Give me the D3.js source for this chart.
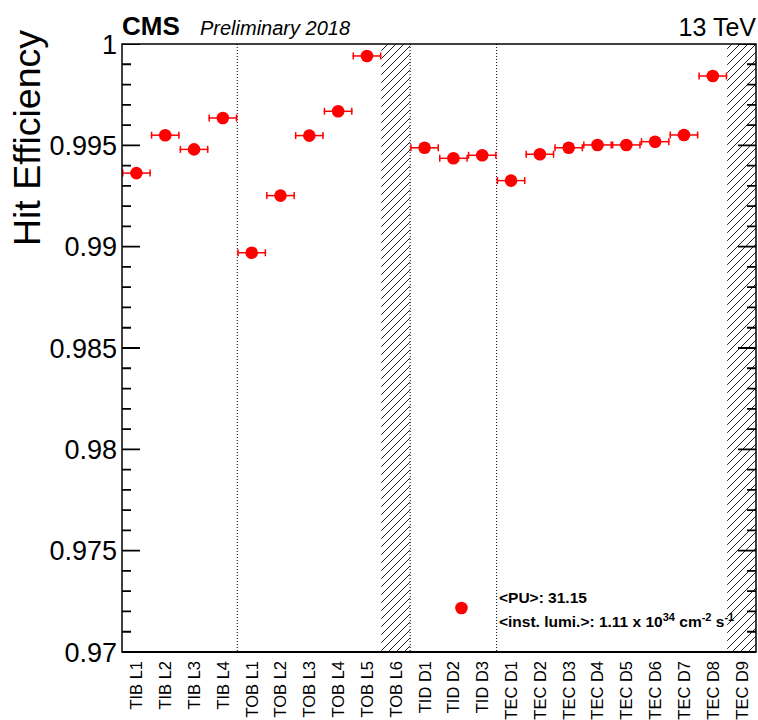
<!DOCTYPE html>
<html>
<head>
<meta charset="utf-8">
<script src="https://cdn.jsdelivr.net/npm/d3@7"></script>
<style>
  html, body { margin: 0; padding: 0; background: #fff; }
  svg { display: block; font-family: "Liberation Sans", Arial, Helvetica, sans-serif; }
</style>
</head>
<body>
<svg id="chart" width="758" height="720"></svg>
<script>
// ---- data ----
const categories = ["TIB L1","TIB L2","TIB L3","TIB L4",
  "TOB L1","TOB L2","TOB L3","TOB L4","TOB L5","TOB L6",
  "TID D1","TID D2","TID D3",
  "TEC D1","TEC D2","TEC D3","TEC D4","TEC D5","TEC D6","TEC D7","TEC D8","TEC D9"];
const efficiency = [0.99363, 0.99550, 0.99480, 0.99635,
  0.98970, 0.99252, 0.99548, 0.99668, 0.99941, null,
  0.99488, 0.99436, 0.99451,
  0.99326, 0.99456, 0.99488, 0.99502, 0.99502, 0.99518, 0.99551, 0.99842, null];
const hatchedLayers = ["TOB L6", "TEC D9"];
const subdetectorStarts = ["TOB L1", "TID D1", "TEC D1"];
const extraPointBin = [11.78];     // bin-index coordinate of the lone marker
const extraPointValue = [0.97217];
const yMajorTicks = [0.97, 0.975, 0.98, 0.985, 0.99, 0.995, 1.0];
const yMinorTicks = [0.971, 0.972, 0.973, 0.974, 0.976, 0.977, 0.978, 0.979,
  0.981, 0.982, 0.983, 0.984, 0.986, 0.987, 0.988, 0.989,
  0.991, 0.992, 0.993, 0.994, 0.996, 0.997, 0.998, 0.999];
const annotationPU = "<PU>: 31.15";

// ---- layout ----
const L = 122, R = 756, T = 44, B = 652;
const svg = d3.select("#chart");
const x = d3.scaleLinear().domain([0, categories.length]).range([L, R]);
const y = d3.scaleLinear().domain([0.97, 1.0]).range([B, T]);
const binW = x(1) - x(0);

const defs = svg.append("defs");
const pat = defs.append("pattern").attr("id", "hatch")
  .attr("patternUnits", "userSpaceOnUse").attr("width", 8).attr("height", 8);
pat.append("path").attr("d", "M0,8 L8,0 M-2,2 L2,-2 M6,10 L10,6")
  .attr("stroke", "#222").attr("stroke-width", 1);
defs.append("clipPath").attr("id", "plotclip").append("rect")
  .attr("x", L).attr("y", T).attr("width", R - L).attr("height", B - T);

const plot = svg.append("g").attr("clip-path", "url(#plotclip)");

// hatched (excluded) layers
plot.selectAll("rect.hatch").data(hatchedLayers).enter().append("rect")
  .attr("class", "hatch")
  .attr("x", d => x(categories.indexOf(d)))
  .attr("y", T).attr("width", binW).attr("height", B - T)
  .attr("fill", "url(#hatch)");

// subdetector separators
plot.selectAll("line.sep").data(subdetectorStarts).enter().append("line")
  .attr("x1", d => x(categories.indexOf(d))).attr("x2", d => x(categories.indexOf(d)))
  .attr("y1", T).attr("y2", B)
  .attr("stroke", "#000").attr("stroke-width", 1).attr("stroke-dasharray", "1,2");

// ticks (left and right, inward)
const tickData = yMajorTicks.map(v => ({ v: v, len: 18 }))
  .concat(yMinorTicks.map(v => ({ v: v, len: 9 })));
plot.selectAll("path.ytick").data(tickData).enter().append("path")
  .attr("class", "ytick")
  .attr("d", d => `M${L},${y(d.v)}h${d.len}M${R},${y(d.v)}h${-d.len}`)
  .attr("stroke", "#000").attr("stroke-width", 1.8).attr("fill", "none");

// data points
const pts = categories.map((c, i) => ({ c, i, v: efficiency[i] })).filter(d => d.v !== null);
const red = "#ff0000";
const g = plot.append("g");
g.selectAll("line.eb").data(pts).enter().append("line")
  .attr("x1", d => x(d.i)).attr("x2", d => x(d.i + 1))
  .attr("y1", d => y(d.v)).attr("y2", d => y(d.v))
  .attr("stroke", red).attr("stroke-width", 1.5);
g.selectAll("line.capL").data(pts).enter().append("line")
  .attr("x1", d => x(d.i) + 0.75).attr("x2", d => x(d.i) + 0.75)
  .attr("y1", d => y(d.v) - 3.5).attr("y2", d => y(d.v) + 3.5)
  .attr("stroke", red).attr("stroke-width", 1.5);
g.selectAll("line.capR").data(pts).enter().append("line")
  .attr("x1", d => x(d.i + 1) - 0.75).attr("x2", d => x(d.i + 1) - 0.75)
  .attr("y1", d => y(d.v) - 3.5).attr("y2", d => y(d.v) + 3.5)
  .attr("stroke", red).attr("stroke-width", 1.5);
g.selectAll("circle.pt").data(pts).enter().append("circle")
  .attr("cx", d => x(d.i + 0.5)).attr("cy", d => y(d.v)).attr("r", 6.3)
  .attr("fill", red);
g.selectAll("circle.extra").data(extraPointBin).enter().append("circle")
  .attr("cx", d => x(d)).attr("cy", (d, i) => y(extraPointValue[i])).attr("r", 6.3)
  .attr("fill", red);

// frame
svg.append("rect").attr("x", L).attr("y", T).attr("width", R - L).attr("height", B - T)
  .attr("fill", "none").attr("stroke", "#000").attr("stroke-width", 1.5);
svg.append("line").attr("x1", L).attr("x2", R).attr("y1", B).attr("y2", B)
  .attr("stroke", "#000").attr("stroke-width", 2);

// y tick labels
const fmt = d => String(+d.toFixed(3));
svg.append("g").selectAll("text").data(yMajorTicks).enter().append("text")
  .attr("x", L - 5).attr("y", d => y(d)).attr("dy", "0.36em")
  .attr("text-anchor", "end").attr("font-size", 27).attr("fill", "#000")
  .text(fmt);

// x labels
svg.append("g").selectAll("text").data(categories).enter().append("text")
  .attr("transform", (d, i) => `translate(${x(i + 0.5)},661) rotate(-90)`)
  .attr("text-anchor", "end").attr("dy", "0.36em")
  .attr("font-size", 16.5).attr("fill", "#000").text(d => d);

// y title
svg.append("text").attr("transform", "translate(40,30) rotate(-90)")
  .attr("text-anchor", "end").attr("font-size", 37.5).attr("fill", "#000")
  .text("Hit Efficiency");

// header
svg.append("text").attr("x", 122).attr("y", 35).attr("font-size", 26)
  .attr("font-weight", "bold").text("CMS");
svg.append("text").attr("x", 200).attr("y", 35).attr("font-size", 20)
  .attr("font-style", "italic").text("Preliminary 2018");
svg.append("text").attr("x", 756).attr("y", 36).attr("font-size", 25)
  .attr("text-anchor", "end").text("13 TeV");

// annotation
svg.append("text").attr("x", 499).attr("y", 603).attr("font-size", 15.5)
  .attr("font-weight", "bold").text(annotationPU);
const t2 = svg.append("text").attr("x", 499).attr("y", 627).attr("font-size", 15.5)
  .attr("font-weight", "bold");
t2.append("tspan").text("<inst. lumi.>: 1.11 x 10");
t2.append("tspan").attr("dy", -6).attr("font-size", 11).text("34");
t2.append("tspan").attr("dy", 6).text(" cm");
t2.append("tspan").attr("dy", -6).attr("font-size", 11).text("-2");
t2.append("tspan").attr("dy", 6).text(" s");
t2.append("tspan").attr("dy", -6).attr("font-size", 11).text("-1");
</script>
</body>
</html>
